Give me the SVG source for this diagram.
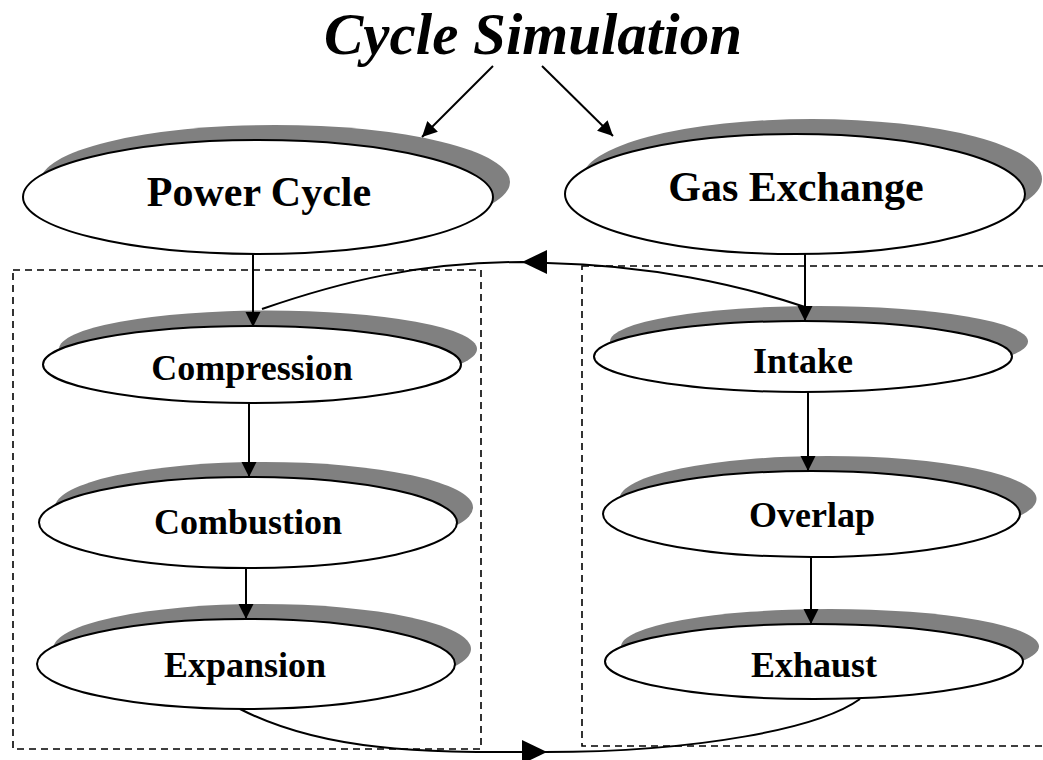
<svg xmlns="http://www.w3.org/2000/svg" width="1043" height="760" viewBox="0 0 1043 760">
  <defs>
    <marker id="arrow" markerUnits="userSpaceOnUse" markerWidth="16" markerHeight="16" refX="15" refY="7.5" orient="auto">
      <path d="M0,0 L15,7.5 L0,15 z" fill="#000"/>
    </marker>
    <style>
      .shadow { fill: #808080; stroke: none; }
      .node { fill: #fff; stroke: #000; stroke-width: 2; }
      .label { font-family: "Liberation Serif", "Times New Roman", serif; font-weight: bold; text-anchor: middle; fill: #000; }
      .big { font-size: 42px; }
      .small { font-size: 36px; }
      .title { font-family: "Liberation Serif", "Times New Roman", serif; font-weight: bold; font-style: italic; font-size: 59px; text-anchor: middle; fill: #000; }
      .box { fill: none; stroke: #000; stroke-width: 1.6; stroke-dasharray: 7 5; }
      .edge { fill: none; stroke: #000; stroke-width: 2; }
      .head { fill: #000; stroke: none; }
    </style>
  </defs>

  <rect width="1043" height="760" fill="#fff"/>

  <!-- phase groupings -->
  <g id="groups">
    <rect class="box" x="13" y="270" width="468" height="479"/>
    <rect class="box" x="582" y="266" width="470" height="480"/>
  </g>

  <!-- title -->
  <text class="title" x="533" y="54">Cycle Simulation</text>

  <g id="power-cycle">
    <ellipse class="shadow" cx="275" cy="182" rx="235" ry="57"/>
    <ellipse class="node" cx="258" cy="197" rx="235" ry="57"/>
    <text class="label big" x="259" y="206">Power Cycle</text>
  </g>

  <g id="gas-exchange">
    <ellipse class="shadow" cx="812" cy="179" rx="230" ry="60"/>
    <ellipse class="node" cx="795" cy="194" rx="230" ry="60"/>
    <text class="label big" x="796" y="201">Gas Exchange</text>
  </g>

  <g id="compression">
    <ellipse class="shadow" cx="268" cy="349" rx="209" ry="38.5"/>
    <ellipse class="node" cx="252" cy="364.5" rx="209" ry="38.5"/>
    <text class="label small" x="252" y="380">Compression</text>
  </g>

  <g id="combustion">
    <ellipse class="shadow" cx="264" cy="507.5" rx="209" ry="45.5"/>
    <ellipse class="node" cx="248" cy="522.5" rx="209" ry="45.5"/>
    <text class="label small" x="248" y="534">Combustion</text>
  </g>

  <g id="expansion">
    <ellipse class="shadow" cx="262" cy="649" rx="209" ry="45"/>
    <ellipse class="node" cx="246" cy="664" rx="209" ry="45"/>
    <text class="label small" x="245" y="677">Expansion</text>
  </g>

  <g id="intake">
    <ellipse class="shadow" cx="819" cy="341.5" rx="209" ry="35.5"/>
    <ellipse class="node" cx="803" cy="356.5" rx="209" ry="35.5"/>
    <text class="label small" x="803" y="373">Intake</text>
  </g>

  <g id="overlap">
    <ellipse class="shadow" cx="828" cy="499" rx="208.5" ry="43"/>
    <ellipse class="node" cx="811.5" cy="514" rx="208.5" ry="43"/>
    <text class="label small" x="812" y="527">Overlap</text>
  </g>

  <g id="exhaust">
    <ellipse class="shadow" cx="830" cy="646.5" rx="209" ry="37.5"/>
    <ellipse class="node" cx="814" cy="661.5" rx="209" ry="37.5"/>
    <text class="label small" x="814" y="677">Exhaust</text>
  </g>

  <g id="connectors">
    <!-- from the title to the two branches -->
    <line class="edge" x1="493" y1="66" x2="422" y2="137" marker-end="url(#arrow)"/>
    <line class="edge" x1="542" y1="66" x2="613" y2="136" marker-end="url(#arrow)"/>
    <!-- branch entries -->
    <line class="edge" x1="253" y1="254" x2="253" y2="327" marker-end="url(#arrow)"/>
    <line class="edge" x1="805" y1="254" x2="805" y2="321" marker-end="url(#arrow)"/>
    <!-- power cycle chain -->
    <line class="edge" x1="249" y1="403" x2="249" y2="477" marker-end="url(#arrow)"/>
    <line class="edge" x1="246" y1="568" x2="246" y2="619" marker-end="url(#arrow)"/>
    <!-- gas exchange chain -->
    <line class="edge" x1="808" y1="392" x2="808" y2="471" marker-end="url(#arrow)"/>
    <line class="edge" x1="811" y1="557" x2="811" y2="624" marker-end="url(#arrow)"/>
    <!-- intake back to compression -->
    <path class="edge" d="M262,309 C340,282 420,262 522,262 L547,263 C650,265 740,285 805,307"/>
    <polygon class="head" points="522,262 547,250 547,274"/>
    <!-- expansion on to exhaust -->
    <path class="edge" d="M240,709 C330,755 440,752 545,752 C700,752 820,728 860,699"/>
    <polygon class="head" points="547,752 522,740 522,764"/>
  </g>
</svg>
